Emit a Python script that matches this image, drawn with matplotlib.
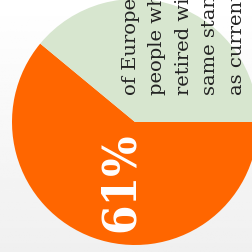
import numpy as np
import matplotlib
matplotlib.use("Agg")
import matplotlib.pyplot as plt

# data
shares = [61, 39]
slice_colors = ["#ff6600", "#d7e6cf"]
big_label = "61%"
caption_lines = ["of Europeans", "people who", "retired with", "same standard", "as currently"]

W, H = 253, 252
fig = plt.figure(figsize=(W / 100, H / 100), dpi=100)
ax = fig.add_axes([0, 0, 1, 1])

# soft background fade, white at top to light grey at bottom
grad = np.linspace(0.94, 1.0, 100).reshape(-1, 1)
ax.imshow(grad, extent=[0, W, 0, H], cmap="gray", vmin=0, vmax=1,
          origin="lower", aspect="auto", zorder=0)

cx, cy, r = 135, H - 122, 123
wedges, _ = ax.pie(shares, colors=slice_colors, startangle=0, counterclock=False,
                   center=(cx, cy), radius=r, frame=True,
                   wedgeprops=dict(linewidth=0))
for w in wedges:
    w.set_zorder(1)
ax.set_xlim(0, W)
ax.set_ylim(0, H)
ax.set_aspect("equal")
ax.axis("off")

ax.text(121, H - 182, big_label, rotation=90, ha="center", va="center",
        color="white", fontsize=34, fontweight="bold", family="DejaVu Serif",
        fontstretch="condensed", zorder=3)

for i, line in enumerate(caption_lines):
    ax.text(131 + 26.5 * i, H - 95, line, rotation=90, ha="center", va="bottom",
            color="#222222", fontsize=14, family="DejaVu Serif", zorder=3)

fig.savefig("out.png", dpi=100)
